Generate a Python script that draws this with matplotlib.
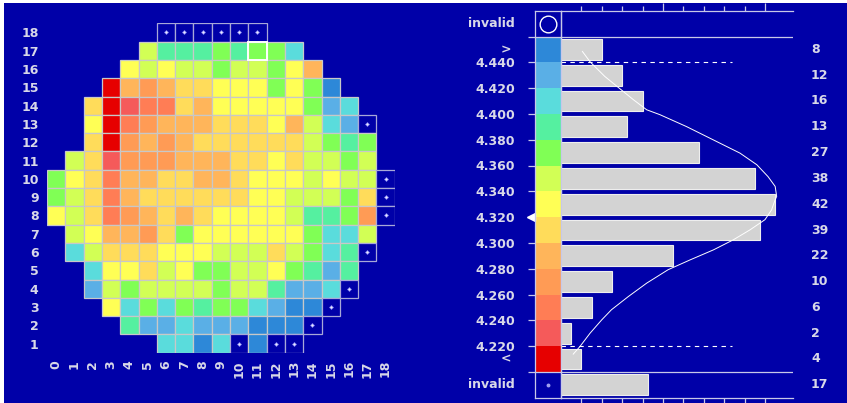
import matplotlib
matplotlib.use('Agg')
import matplotlib.pyplot as plt
import matplotlib.transforms as mtransforms
from matplotlib.patches import Rectangle
import numpy as np

plt.rcParams['font.family'] = ['DejaVu Sans']
plt.rcParams['font.weight'] = 'bold'

BG = '#0000A8'
TXT = '#D8D8E8'
LINE = '#C8C8E8'

# colour bins, top (">") to bottom ("<")
bin_codes = 'DLCTGYWABOPQR'
bin_colors = ['#2D88D8', '#5AAFE6', '#5ADCDC', '#55F0A0', '#80FF55', '#D2FF55',
              '#FFFF55', '#FFDC5A', '#FFB55A', '#FF9B55', '#FF7D55', '#F55A5A', '#E60000']
bin_edges = ['4.440', '4.420', '4.400', '4.380', '4.360', '4.340',
             '4.320', '4.300', '4.280', '4.260', '4.240', '4.220']
bin_counts = [8, 12, 16, 13, 27, 38, 42, 39, 22, 10, 6, 2, 4]
invalid_count = 17
spec_edges = ['4.440', '4.220']
mark_edge = '4.320'

# wafer map, row 18 first, columns 0..18 ('.' = no die, 'X' = invalid)
row_numbers = list(range(18, 0, -1))
wafer_rows = [
    '......XXXXXX.......',
    '.....YTTTGTGGC.....',
    '....WYWYYGYYGWB....',
    '...RBOBAAWWWGWGD...',
    '..ARQPPABWWWWWGLC..',
    '..WRPOBBBAAAWBYCLX.',
    '..AROBOBAAAAAAYGTG.',
    '.YAQOOOBBBAAWAYYGY.',
    'GWAPBBAABBAWWWYWYYX',
    'GYAPBAAAAAAWWYYYGAX',
    'WYAPOBABAWWWWYTTGOX',
    '.YWBBOAGWWWWWWGCCY.',
    '.CYAAAWWWYYYAYGCTX.',
    '..CWWAYWGGYYWGTLT..',
    '..LYGYYYYGYYTLLCX..',
    '...WCGCGTGGCLDDX...',
    '....TLLCLLLDDDX....',
    '......CCDCXDXX.....',
]
highlight_col, highlight_row = 11, 17

# fitted curve (count, value)
curve_count = [4.2, 5.7, 8.6, 11.4, 14.2, 16.8, 19.4, 24.6, 29.8, 35.1, 38.4, 40.6, 42.0,
               42.3, 42.0, 41.3, 40.0, 37.1, 33.8, 29.9, 25.3, 21.0, 16.8, 13.2, 9.9,
               8.0, 5.7, 3.7, 2.4]
curve_value = [4.4484, 4.4404, 4.4290, 4.4200, 4.4110, 4.4032, 4.3994, 4.3902, 4.3800,
               4.3696, 4.3606, 4.3514, 4.3438, 4.3360, 4.3334, 4.3256, 4.3180, 4.3102,
               4.3024, 4.2946, 4.2868, 4.2792, 4.2688, 4.2584, 4.2482, 4.2404, 4.2300,
               4.2196, 4.2138]

W, H = 847, 403
def px(l, t, r, b):
    return [l / W, 1 - b / H, (r - l) / W, (b - t) / H]

fig = plt.figure(figsize=(W / 100, H / 100), dpi=100, facecolor='white')

bg = fig.add_axes(px(4, 3, W + 2, H + 2))
bg.set_facecolor(BG)
bg.set_xticks([])
bg.set_yticks([])
for s in bg.spines.values():
    s.set_visible(False)

# ---------------- wafer map ----------------
ax = fig.add_axes(px(47, 23.3, 394.7, 352.7))
ax.set_facecolor('none')
ax.set_xlim(-0.5, 18.5)
ax.set_ylim(0.5, 18.5)
color_of = dict(zip(bin_codes, bin_colors))
for r, row in zip(row_numbers, wafer_rows):
    for c, code in enumerate(row):
        if code == '.':
            continue
        if code == 'X':
            ax.add_patch(Rectangle((c - 0.5, r - 0.5), 1, 1, facecolor=BG,
                                   edgecolor='#A8A8D8', lw=0.9))
            ax.plot(c, r, marker='D', ms=2, mfc='#E8E8FF', mec='#7878F0', mew=0.5)
        else:
            ax.add_patch(Rectangle((c - 0.5, r - 0.5), 1, 1, facecolor=color_of[code],
                                   edgecolor='#C8C8C8', lw=0.9))
ax.add_patch(Rectangle((highlight_col - 0.5, highlight_row - 0.5), 1, 1,
                       facecolor='none', edgecolor='white', lw=1.4))
ax.set_xticks(range(19))
ax.set_xticklabels([str(i) for i in range(19)], rotation=90)
ax.set_yticks(row_numbers)
ax.set_yticklabels([str(r) for r in row_numbers])
ax.tick_params(axis='both', length=0, labelcolor=TXT, labelsize=9)
ax.tick_params(axis='x', pad=5.3)
ax.tick_params(axis='y', pad=6)
for s in ax.spines.values():
    s.set_visible(False)

# ---------------- colour column ----------------
cx = fig.add_axes(px(535, 10.7, 561, 397.7))
cx.set_facecolor('none')
cx.set_xlim(0, 1)
cx.set_ylim(14, -1)
nb = len(bin_counts)
cx.barh(np.arange(nb) + 0.5, 1, height=1, color=bin_colors, lw=0)
cx.axhline(0, color=LINE, lw=0.9)
cx.axhline(nb, color=LINE, lw=0.9)
for s in cx.spines.values():
    s.set_color(LINE)
    s.set_linewidth(0.9)
cx.set_xticks([])
cx.set_yticks(range(nb + 1))
cx.set_yticklabels([''] + bin_edges + [''])
cx.tick_params(axis='y', length=5, width=0.9, color=LINE, labelcolor=TXT,
               labelsize=9, pad=9.6)
mi = bin_edges.index(mark_edge) + 1
cx.yaxis.get_major_ticks()[mi].tick1line.set_visible(False)
cx.plot(-0.15, mi, marker='<', ms=6, color='white', clip_on=False)
cx.plot(0.5, -0.5, 'o', ms=12, mfc='none', mec='white', mew=1)
cx.plot(0.5, nb + 0.5, 'o', ms=1.8, color='#A0A0F0')
kw = dict(color=TXT, fontsize=9, fontweight='bold', va='center', clip_on=False)
cx.text(-0.935, 0.5, '>', ha='right', **kw)
cx.text(-0.935, nb - 0.5, '<', ha='right', **kw)
cx.text(-0.77, -0.5, 'invalid', ha='right', **kw)
cx.text(-0.77, nb + 0.5, 'invalid', ha='right', **kw)

# ---------------- histogram ----------------
hx = fig.add_axes(px(561, 10.7, 793, 397.7))
hx.set_facecolor('none')
hx.set_xlim(0, 45.5)
hx.set_ylim(14, -1)
hx.barh(np.arange(nb) + 0.5, bin_counts, height=0.81, color='#D3D3D3',
        edgecolor='#EEEEEE', lw=0.8)
hx.barh(nb + 0.5, invalid_count, height=0.81, color='#D3D3D3',
        edgecolor='#EEEEEE', lw=0.8)
spec_y = [bin_edges.index(e) + 1 for e in spec_edges]
hx.hlines(spec_y, 0, 33.5, colors='white', linestyles=(0, (4, 4)), lw=0.8)
curve_y = [1 + (4.440 - v) / 0.02 for v in curve_value]
hx.plot(curve_count, curve_y, color='white', lw=0.7)
hx.axhline(0, color=LINE, lw=0.9)
hx.axhline(nb, color=LINE, lw=0.9)
for k in ['top', 'bottom', 'left']:
    hx.spines[k].set_color(LINE)
    hx.spines[k].set_linewidth(0.9)
hx.spines['right'].set_visible(False)
hx.set_yticks([])
hx.set_xticks([20, 40])
hx.set_xticks([4, 8, 12, 16, 24, 28, 32, 36], minor=True)
hx.tick_params(axis='x', which='both', top=True, bottom=True, labelbottom=False,
               direction='out', color=LINE, width=0.9)
hx.tick_params(axis='x', which='major', length=5.8)
hx.tick_params(axis='x', which='minor', length=3.4)
tr = mtransforms.blended_transform_factory(hx.transAxes, hx.transData)
for i, n in enumerate(bin_counts + [invalid_count]):
    hx.text(1.0776, i + 0.5, str(n), transform=tr, ha='left', va='center',
            color=TXT, fontsize=9, fontweight='bold', clip_on=False)

fig.savefig('out.png', dpi=100, facecolor=fig.get_facecolor())
